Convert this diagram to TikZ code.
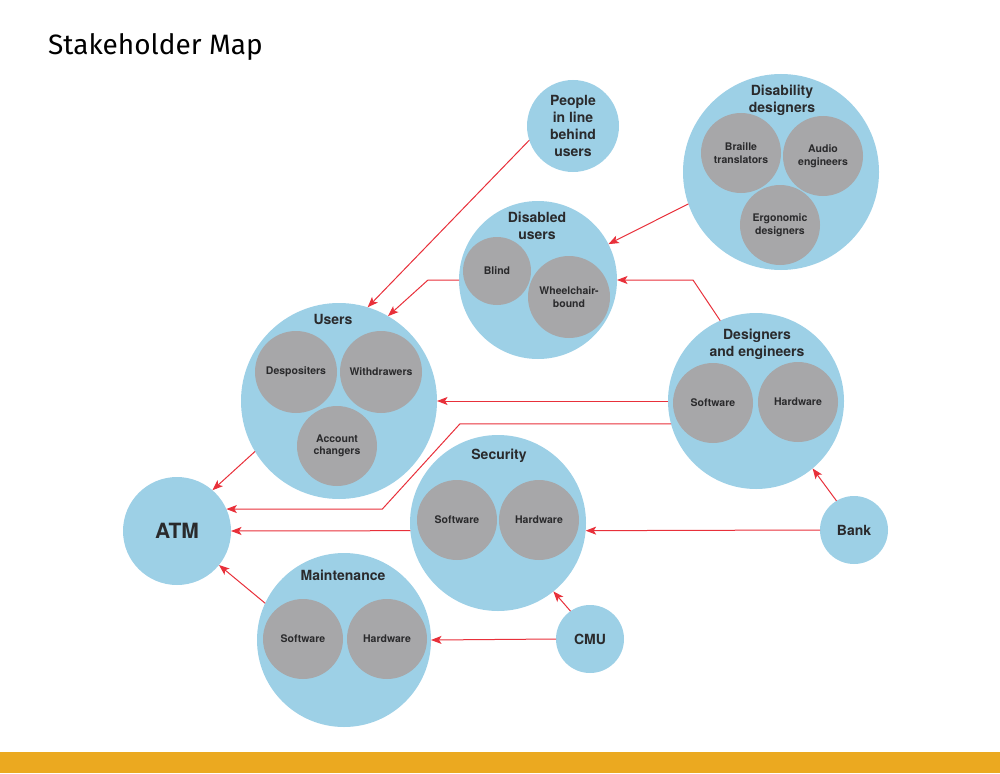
\documentclass[tikz,border=0pt]{standalone}
\usepackage{fontspec}
\setmainfont{TeX Gyre Heros}
\newfontfamily\headfont{Fira Sans}
\usetikzlibrary{arrows.meta}
\definecolor{ringblue}{HTML}{9DD0E6}
\definecolor{partgrey}{HTML}{A7A7A9}
\definecolor{linkred}{HTML}{E8303A}
\definecolor{inkgrey}{HTML}{2A2A2C}
\definecolor{barorange}{HTML}{EBA920}
\tikzset{
  ring/.style={circle,fill=ringblue,inner sep=0pt,outer sep=0pt,minimum size=#1,
    text=inkgrey,font=\bfseries\fontsize{14}{17}\selectfont,align=center},
  part/.style={circle,fill=partgrey,inner sep=0pt,outer sep=0pt,minimum size=#1,
    text=inkgrey,font=\bfseries\fontsize{10.5}{12.5}\selectfont,align=center},
  part/.default=80pt,
  ringtitle/.style={text=inkgrey,font=\bfseries\fontsize{14}{17}\selectfont,align=center,inner sep=0pt},
  link/.style={draw=linkred,line width=1pt,-{Stealth[length=10.5pt,width=8pt,inset=2.5pt]}}
}
\begin{document}
\begin{tikzpicture}[x=1pt,y=-1pt]
\useasboundingbox (0,0) rectangle (1000,773);
% heading and bottom bar
\node[anchor=base west,inner sep=0pt,font=\headfont\fontsize{28}{32}\selectfont] (heading) at (48,55) {Stakeholder Map};
\fill[barorange] (0,752) rectangle (1000,773);
% outer rings
\node[ring=92pt] (people) at (573,126) {People\\in line\\behind\\users};
\node[ring=196pt] (disdes) at (781,172) {};
\node[ring=158pt] (disabled) at (538,280) {};
\node[ring=196pt] (users) at (339,401) {};
\node[ring=176pt] (designers) at (756,401) {};
\node[ring=176pt] (security) at (498,523) {};
\node[ring=174pt] (maint) at (344,640) {};
\node[ring=108pt,font=\bfseries\fontsize{21}{24}\selectfont] (atm) at (177,531) {ATM};
\node[ring=68pt] (bank) at (854,530) {Bank};
\node[ring=68pt] (cmu) at (590,639) {CMU};
% ring titles
\node[ringtitle] (disdestitle) at (782,100) {Disability\\designers};
\node[ringtitle] (disabledtitle) at (537,226) {Disabled\\users};
\node[ringtitle] (userstitle) at (333,319) {Users};
\node[ringtitle] (designerstitle) at (757,344) {Designers\\and engineers};
\node[ringtitle] (securitytitle) at (499,456) {Security};
\node[ringtitle] (mainttitle) at (343,575) {Maintenance};
% inner parts
\node[part] (braille) at (741,153) {Braille\\translators};
\node[part] (audio) at (823,156) {Audio\\engineers};
\node[part] (ergo) at (780,225) {Ergonomic\\designers};
\node[part=68pt] (blind) at (497,271) {Blind};
\node[part=82pt] (wheel) at (569,297) {Wheelchair-\\bound};
\node[part=82pt] (depo) at (296,372) {Despositers};
\node[part=82pt] (withd) at (381,372) {Withdrawers};
\node[part] (account) at (337,446) {Account\\changers};
\node[part] (dsoft) at (713,403) {Software};
\node[part] (dhard) at (798,402) {Hardware};
\node[part] (ssoft) at (457,520) {Software};
\node[part] (shard) at (539,520) {Hardware};
\node[part] (msoft) at (303,639) {Software};
\node[part] (mhard) at (387,639) {Hardware};
% links
\draw[link] (people.198) -- (users.73);
\draw[link] (disdes.199.5) -- (disabled.27);
\draw[link] (disabled.west) -- ++(-31,0) -- (users.60);
\draw[link] (designers.114) -- ([xshift=76pt]disabled.east) -- (disabled.east);
\draw[link] (designers.west) -- (users.east);
\draw[link] (designers.195) -- ++(-211,0) -- ([xshift=156pt]atm.24) -- (atm.24);
\draw[link] (users.211) -- (atm.49);
\draw[link] (security.185) -- (atm.east);
\draw[link] (maint.155.5) -- (atm.321);
\draw[link] (cmu.west) -- (maint.east);
\draw[link] (cmu.125) -- (security.309);
\draw[link] (bank.west) -- (security.355.4);
\draw[link] (bank.121) -- (designers.310);
\end{tikzpicture}
\end{document}
